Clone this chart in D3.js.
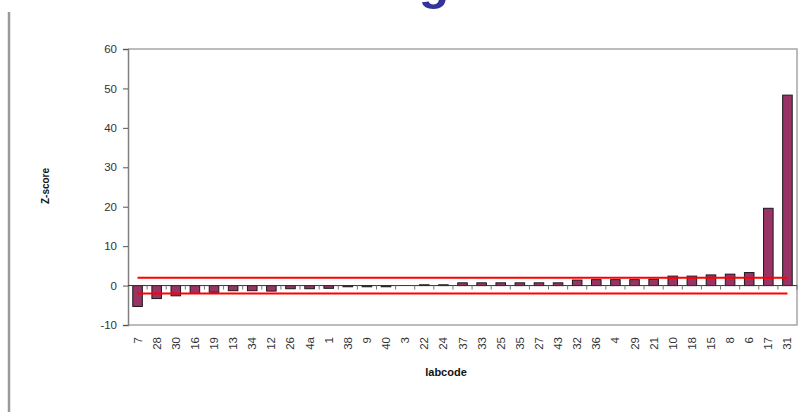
<!DOCTYPE html>
<html>
<head>
<meta charset="utf-8">
<script src="https://cdn.jsdelivr.net/npm/d3@7/dist/d3.min.js"></script>
<style>
  html, body { margin: 0; padding: 0; background: #fff; }
  svg { display: block; font-family: Arial, "Liberation Sans", sans-serif; }
</style>
</head>
<body>
<svg id="chart" width="808" height="412"></svg>
<script>
// Lab codes, ordered by Z-score
const labcodes = ["7","28","30","16","19","13","34","12","26","4a","1","38","9","40","3",
  "22","24","37","33","25","35","27","43","32","36","4","29","21","10","18","15","8","6","17","31"];
// Z-score per lab
const zscores = [-5.3,-3.3,-2.6,-2.0,-1.7,-1.3,-1.3,-1.4,-0.8,-0.8,-0.7,-0.3,-0.3,-0.3,0.0,
  0.2,0.2,0.7,0.7,0.7,0.7,0.7,0.7,1.4,1.5,1.5,1.5,1.6,2.4,2.4,2.7,2.9,3.3,19.6,48.3];
// Acceptance limits |z| <= 2
const limits = [2, -2];
const yTicks = [-10, 0, 10, 20, 30, 40, 50, 60];

const svg = d3.select("#chart");
const plot = { left: 128, right: 797, top: 49, bottom: 325 };

// Heading above the slide area (only its descender is in view)
svg.append("text")
  .attr("x", 434).attr("y", -1)
  .attr("text-anchor", "middle")
  .attr("font-size", 50).attr("font-weight", "bold")
  .attr("fill", "#333399")
  .text("g");

// Slide margin rule
svg.append("line")
  .attr("x1", 9).attr("x2", 9).attr("y1", 12).attr("y2", 412)
  .attr("stroke", "#9a9a9a").attr("stroke-width", 2.5);

const x = d3.scaleBand().domain(labcodes).range([plot.left, plot.right]).paddingInner(0.5).paddingOuter(0.25);
const xBand = d3.scaleBand().domain(labcodes).range([plot.left, plot.right]);
const y = d3.scaleLinear().domain([-10, 60]).range([plot.bottom, plot.top]);

// Plot frame (top, right, bottom)
svg.append("path")
  .attr("d", `M${plot.left},${plot.top}H${plot.right}V${plot.bottom}H${plot.left}`)
  .attr("fill", "none").attr("stroke", "#a6a6a6").attr("stroke-width", 1.5);

// Y axis
const yAxis = svg.append("g")
  .attr("transform", `translate(${plot.left},0)`)
  .call(d3.axisLeft(y).tickValues(yTicks).tickFormat(d => String(d)).tickSize(5).tickPadding(6));
yAxis.select(".domain").attr("stroke", "#808080").attr("stroke-width", 1.5);
yAxis.selectAll(".tick line").attr("stroke", "#555");
yAxis.selectAll(".tick text").attr("font-size", 11.5).attr("fill", "#333")
  .attr("font-family", "Arial, 'Liberation Sans', sans-serif");

// Bars
svg.append("g").selectAll("rect")
  .data(labcodes.map((c, i) => ({ c, v: zscores[i] })))
  .join("rect")
  .attr("x", d => x(d.c))
  .attr("width", x.bandwidth())
  .attr("y", d => y(Math.max(0, d.v)))
  .attr("height", d => Math.abs(y(d.v) - y(0)))
  .attr("fill", "#993366")
  .attr("stroke", "#1a1a1a").attr("stroke-width", 1);

// Zero axis with category ticks
const xAxis = svg.append("g")
  .attr("transform", `translate(0,${y(0)})`);
xAxis.append("line")
  .attr("x1", plot.left).attr("x2", plot.right)
  .attr("stroke", "#333").attr("stroke-width", 1);
xAxis.selectAll("line.tk")
  .data(labcodes.slice(1).concat(["__end"]))
  .join("line").attr("class", "tk")
  .attr("x1", (d, i) => plot.left + xBand.step() * (i + 1))
  .attr("x2", (d, i) => plot.left + xBand.step() * (i + 1))
  .attr("y1", 0).attr("y2", 4)
  .attr("stroke", "#777").attr("stroke-width", 1);

// Category labels below the plot
svg.append("g").selectAll("text")
  .data(labcodes)
  .join("text")
  .attr("transform", d => `translate(${xBand(d) + xBand.bandwidth() / 2 + 4},${plot.bottom + 12}) rotate(-90)`)
  .attr("text-anchor", "end")
  .attr("font-size", 11.5).attr("fill", "#333")
  .text(d => d);

// Limit lines at z = ±2
const first = xBand(labcodes[0]) + xBand.bandwidth() / 2;
const last = xBand(labcodes[labcodes.length - 1]) + xBand.bandwidth() / 2;
svg.append("g").selectAll("line")
  .data(limits)
  .join("line")
  .attr("x1", first).attr("x2", last)
  .attr("y1", d => y(d)).attr("y2", d => y(d))
  .attr("stroke", "#ff0000").attr("stroke-width", 2);

// Axis titles
svg.append("text")
  .attr("transform", "translate(49,186) rotate(-90)")
  .attr("text-anchor", "middle")
  .attr("font-size", 10).attr("font-weight", "bold").attr("fill", "#111")
  .text("Z-score");
svg.append("text")
  .attr("x", 446).attr("y", 376)
  .attr("text-anchor", "middle")
  .attr("font-size", 11).attr("font-weight", "bold").attr("fill", "#111")
  .text("labcode");
</script>
</body>
</html>
